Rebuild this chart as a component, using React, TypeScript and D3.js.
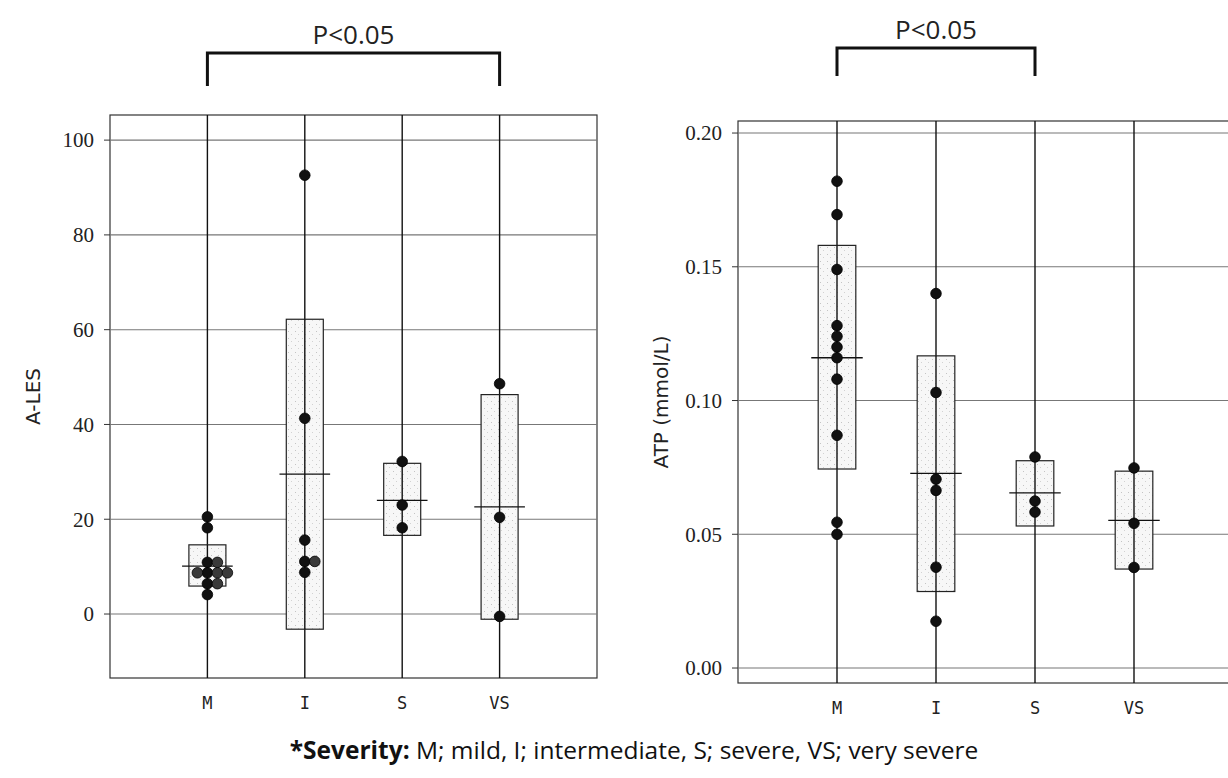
import React from 'react';
import * as d3 from 'd3';

// severity groups
const categories = ['M', 'I', 'S', 'VS'];

// A-LES (left panel)
const alesValues = [
  [20.5, 18.2, 10.9, 10.9, 8.7, 8.7, 8.7, 8.7, 6.4, 6.4, 4.1],
  [92.6, 41.3, 15.6, 11.1, 11.1, 8.8],
  [32.2, 23.0, 18.2],
  [48.6, 20.4, -0.5],
];
const alesMean = [10.1, 29.5, 24.0, 22.6];
const alesLow = [5.9, -3.2, 16.6, -1.1];
const alesHigh = [14.6, 62.2, 31.8, 46.3];
const alesTicks = [0, 20, 40, 60, 80, 100];

// ATP (right panel)
const atpValues = [
  [0.182, 0.1695, 0.149, 0.128, 0.124, 0.12, 0.116, 0.108, 0.087, 0.0545, 0.05],
  [0.14, 0.103, 0.0706, 0.0664, 0.0377, 0.0175],
  [0.0789, 0.0624, 0.0583],
  [0.0748, 0.0541, 0.0376],
];
const atpMean = [0.116, 0.0728, 0.0655, 0.0552];
const atpLow = [0.0744, 0.0286, 0.0531, 0.037];
const atpHigh = [0.158, 0.1167, 0.0775, 0.0736];
const atpTicks = [0, 0.05, 0.1, 0.15, 0.2];

const serif = "'Liberation Serif', 'Times New Roman', serif";
const sans = "'Open Sans', 'Noto Sans', sans-serif";
const labelFont = "'DejaVu Sans', 'Noto Sans', sans-serif";

type PanelProps = {
  left: number;
  right: number;
  top: number;
  bottom: number;
  domain: [number, number];
  ticks: number[];
  fmt: (v: number) => string;
  values: number[][];
  means: number[];
  lows: number[];
  highs: number[];
  ylabel: string;
  ylabelX: number;
  bracket: [number, number];
  bracketTop: number;
  bracketBottom: number;
  pY: number;
};

// stack dots that would overlap side by side: 0, +1, -1, +2 ...
function layoutDots(vals: number[], y: (v: number) => number) {
  const rows: { y: number; n: number }[] = [];
  const order = [0, 1, -1, 2, -2, 3, -3];
  return vals.map(v => {
    const py = y(v);
    let r = rows.find(r => Math.abs(r.y - py) < 4);
    if (!r) {
      r = { y: py, n: 0 };
      rows.push(r);
    }
    const off = order[r.n++];
    return { v, py, off };
  });
}

const Panel = (p: PanelProps) => {
  const x = d3.scaleLinear().domain([0, 5]).range([p.left, p.right]);
  const y = d3.scaleLinear().domain(p.domain).range([p.bottom, p.top]);
  const step = x(1) - x(0);
  const boxW = step * 0.38;
  const meanW = step * 0.52;
  const labelY = (p.top + p.bottom) / 2;

  return (
    <g>
      {/* frame */}
      <rect x={p.left} y={p.top} width={p.right - p.left} height={p.bottom - p.top}
        fill="none" stroke="#333" strokeWidth={1.2} />
      {/* grid + ticks */}
      {p.ticks.map(t => (
        <g key={t}>
          <line x1={p.left} x2={p.right} y1={y(t)} y2={y(t)} stroke="#777" strokeWidth={1.1} />
          <line x1={p.left - 6} x2={p.left} y1={y(t)} y2={y(t)} stroke="#333" strokeWidth={1} />
          <text x={p.left - 16} y={y(t)} dy="0.35em" textAnchor="end"
            fontFamily={serif} fontSize={21} fill="#222">{p.fmt(t)}</text>
        </g>
      ))}
      {/* category lines */}
      {categories.map((c, i) => (
        <line key={c} x1={x(i + 1)} x2={x(i + 1)} y1={p.top} y2={p.bottom}
          stroke="#111" strokeWidth={1.4} />
      ))}
      {/* mean ± SD boxes */}
      {categories.map((c, i) => (
        <g key={c}>
          <rect x={x(i + 1) - boxW / 2} y={y(p.highs[i])} width={boxW}
            height={y(p.lows[i]) - y(p.highs[i])}
            fill="url(#stip)" stroke="#222" strokeWidth={1.2} />
          <line x1={x(i + 1)} x2={x(i + 1)} y1={y(p.highs[i])} y2={y(p.lows[i])}
            stroke="#111" strokeWidth={1.4} />
          <line x1={x(i + 1) - meanW / 2} x2={x(i + 1) + meanW / 2}
            y1={y(p.means[i])} y2={y(p.means[i])} stroke="#111" strokeWidth={1.3} />
        </g>
      ))}
      {/* points */}
      {p.values.map((vals, i) =>
        layoutDots(vals, y).map((d, j) => (
          <circle key={i + '-' + j} cx={x(i + 1) + d.off * 10} cy={d.py} r={5.3}
            fill={d.off === 0 ? '#111' : '#3a3a3a'} stroke="#000" strokeWidth={0.8} />
        ))
      )}
      {/* x labels */}
      {categories.map((c, i) => (
        <text key={c} x={x(i + 1)} y={p.bottom + 31} textAnchor="middle"
          fontFamily="'DejaVu Sans Mono', monospace" fontSize={17} fill="#222">{c}</text>
      ))}
      {/* y label */}
      <text transform={`translate(${p.ylabelX},${labelY}) rotate(-90)`} textAnchor="middle"
        fontFamily={labelFont} fontSize={20} fill="#222">{p.ylabel}</text>
      {/* significance bracket */}
      <path d={`M${x(p.bracket[0])},${p.bracketBottom}V${p.bracketTop}H${x(p.bracket[1])}V${p.bracketBottom}`}
        fill="none" stroke="#111" strokeWidth={3} />
      <text x={(x(p.bracket[0]) + x(p.bracket[1])) / 2} y={p.pY} textAnchor="middle"
        fontFamily={sans} fontSize={26} fill="#222">P&lt;0.05</text>
    </g>
  );
};

export default function App() {
  return (
    <div style={{ position: 'fixed', left: 0, top: 0 }}>
      <svg width={1228} height={778} style={{ display: 'block', background: '#fff' }}>
        <defs>
          <pattern id="stip" width={7} height={7} patternUnits="userSpaceOnUse">
            <rect width={7} height={7} fill="#f7f7f7" />
            <rect x={1} y={2} width={1} height={1} fill="#c4c4c4" />
            <rect x={4} y={5} width={1} height={1} fill="#d2d2d2" />
          </pattern>
        </defs>
        <Panel left={110} right={597} top={115} bottom={678} domain={[-13.5, 105.3]}
          ticks={alesTicks} fmt={d3.format('d')}
          values={alesValues} means={alesMean} lows={alesLow} highs={alesHigh}
          ylabel="A-LES" ylabelX={40}
          bracket={[1, 4]} bracketTop={53} bracketBottom={86} pY={44} />
        <Panel left={738} right={1233} top={121} bottom={683} domain={[-0.0056, 0.2045]}
          ticks={atpTicks} fmt={d3.format('.2f')}
          values={atpValues} means={atpMean} lows={atpLow} highs={atpHigh}
          ylabel="ATP (mmol/L)" ylabelX={668}
          bracket={[1, 3]} bracketTop={48} bracketBottom={76} pY={39} />
        <text x={634} y={759} textAnchor="middle" fontFamily={sans} fontSize={24.5} fill="#111">
          <tspan fontWeight={700}>*Severity:</tspan> M; mild, I; intermediate, S; severe, VS; very severe
        </text>
      </svg>
    </div>
  );
}
